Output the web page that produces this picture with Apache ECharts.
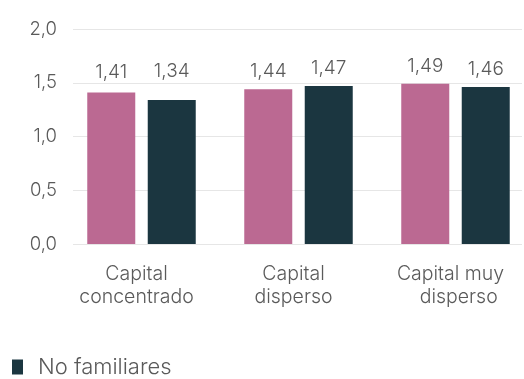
<!DOCTYPE html>
<html>
<head>
<meta charset="utf-8">
<script src="https://cdn.jsdelivr.net/npm/echarts@6/dist/echarts.min.js"></script>
<style>
  html, body { margin: 0; padding: 0; background: #fff; }
  #chart { width: 524px; height: 379px; }
</style>
</head>
<body>
<div id="chart"></div>
<script>
// Categories and series values
const categories = ['Capital\nconcentrado', 'Capital\ndisperso', 'Capital muy\n   disperso'];
const seriesNames = ['Familiares', 'No familiares'];
const familiares = [1.41, 1.44, 1.49];
const noFamiliares = [1.34, 1.47, 1.46];
const yTicks = [0, 0.5, 1.0, 1.5, 2.0];

const FONT = 'Inter, "Noto Sans", sans-serif';
const WEIGHT = 300;
const TEXT = '#5a5a5a';
const colors = ['#bb6992', '#1b3640'];

// extra lift for the value labels of the first group
const liftA = [11, 8, 8];
const liftB = [19, 8, 8];

const fmt = v => v.toFixed(2).replace('.', ',');

function makeData(values, lifts) {
  return values.map((v, i) => ({ value: v, label: { distance: lifts[i] } }));
}

const chart = echarts.init(document.getElementById('chart'), null, { renderer: 'canvas' });

const gridTop = 29, gridBottom = 379 - 244;

chart.setOption({
  animation: false,
  textStyle: { fontFamily: FONT, fontWeight: WEIGHT },
  grid: [
    // value grid: tick labels and horizontal rules
    { left: 73, right: 2, top: gridTop, bottom: gridBottom },
    // bar grid: first and last category sit on its edges
    { left: 141.5, width: 314, top: gridTop, bottom: gridBottom }
  ],
  legend: {
    data: ['No familiares'],
    left: 12,
    top: 356,
    padding: 0,
    icon: 'rect',
    itemWidth: 11,
    itemHeight: 15,
    textStyle: { fontFamily: FONT, fontWeight: WEIGHT, fontSize: 22, color: TEXT, padding: [0, 0, 0, 10] }
  },
  xAxis: [
    { gridIndex: 0, type: 'value', show: false, min: 0, max: 1 },
    {
      gridIndex: 1,
      type: 'category',
      data: categories,
      boundaryGap: false,
      axisLine: { show: false },
      axisTick: { show: false },
      splitLine: { show: false },
      axisLabel: {
        fontFamily: FONT, fontWeight: WEIGHT, fontSize: 19.5, color: TEXT, lineHeight: 23, margin: 19,
        padding: [0, 10, 0, 0]
      }
    }
  ],
  yAxis: [
    {
      gridIndex: 0,
      type: 'value',
      min: 0, max: 2, interval: 0.5,
      axisLine: { show: false },
      axisTick: { show: false },
      splitLine: { lineStyle: { color: '#e6e6e6', width: 1 } },
      axisLabel: {
        fontFamily: FONT, fontWeight: WEIGHT, fontSize: 18.5, color: TEXT, margin: 16,
        formatter: v => yTicks.includes(v) ? v.toFixed(1).replace('.', ',') : ''
      }
    },
    { gridIndex: 1, type: 'value', min: 0, max: 2, show: false }
  ],
  series: [
    {
      name: seriesNames[0],
      type: 'bar',
      xAxisIndex: 1, yAxisIndex: 1,
      data: makeData(familiares, liftA),
      barWidth: 48,
      barGap: '26%',
      clip: false,
      itemStyle: { color: colors[0] },
      label: {
        show: true, position: 'top', fontFamily: FONT, fontWeight: WEIGHT, fontSize: 19, color: TEXT,
        formatter: p => fmt(p.value)
      }
    },
    {
      name: seriesNames[1],
      type: 'bar',
      xAxisIndex: 1, yAxisIndex: 1,
      data: makeData(noFamiliares, liftB),
      barWidth: 48,
      barGap: '26%',
      clip: false,
      itemStyle: { color: colors[1] },
      label: {
        show: true, position: 'top', fontFamily: FONT, fontWeight: WEIGHT, fontSize: 19, color: TEXT,
        formatter: p => fmt(p.value)
      }
    }
  ]
});
</script>
</body>
</html>
